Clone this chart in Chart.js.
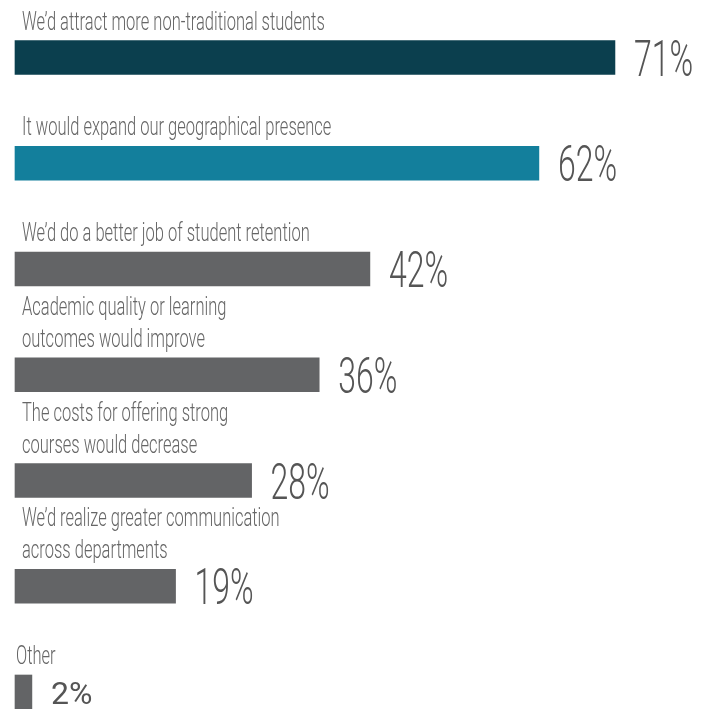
<!DOCTYPE html>
<html>
<head>
<meta charset="utf-8">
<script src="https://cdn.jsdelivr.net/npm/chart.js@4/dist/chart.umd.min.js"></script>
<style>
  html, body { margin: 0; padding: 0; background: #fff; }
  canvas { display: block; }
</style>
</head>
<body>
<canvas id="benefitsChart" width="710" height="709"></canvas>
<script>
// answers, each one split into the lines it is printed on
const categories = [
  ["We\u2019d attract more non-traditional students"],
  ["It would expand our geographical presence"],
  ["We\u2019d do a better job of student retention"],
  ["Academic quality or learning", "outcomes would improve"],
  ["The costs for offering strong", "courses would decrease"],
  ["We\u2019d realize greater communication", "across departments"],
  ["Other"]
];
const percentages = [71, 62, 42, 36, 28, 19, 2];

const barColors = ["#0b3f4e", "#137f9c", "#636466", "#636466", "#636466", "#636466", "#636466"];

// draws the answer text above each bar and the percentage after it
const barTextPlugin = {
  id: "barText",
  afterDatasetsDraw(chart) {
    const ctx = chart.ctx;
    const meta = chart.getDatasetMeta(0);
    const last = percentages.length - 1;
    meta.data.forEach((bar, i) => {
      const p = bar.getProps(["x", "y", "height"], true);
      const top = p.y - p.height / 2;
      const bottom = p.y + p.height / 2;
      // the "Other" row sits flush with the bars
      const left = chart.chartArea.left + (i === last ? 1 : 7);

      ctx.save();
      ctx.fillStyle = "#666666";
      ctx.font = "300 25px Roboto";
      ctx.textBaseline = "alphabetic";
      const lines = categories[i];
      lines.forEach((line, j) => {
        const baseline = top - 11 - (lines.length - 1 - j) * 32;
        ctx.save();
        ctx.translate(left, baseline);
        ctx.scale(0.66, 1);
        ctx.fillText(line, 0, 0);
        ctx.restore();
      });

      const label = percentages[i] + "%";
      ctx.fillStyle = "#555555";
      if (i === last) {
        ctx.font = "400 32px Roboto";
        ctx.fillText(label, p.x + 19, p.y + 12);
      } else {
        ctx.font = "300 50px Roboto";
        ctx.translate(p.x + 19, bottom + 1);
        ctx.scale(0.64, 1);
        ctx.fillText(label, 0, 0);
      }
      ctx.restore();
    });
  }
};

new Chart(document.getElementById("benefitsChart"), {
  type: "bar",
  data: {
    labels: categories.map(c => c.join(" ")),
    datasets: [{
      data: percentages,
      backgroundColor: barColors,
      borderWidth: 0,
      barThickness: 34,
      clip: false
    }]
  },
  options: {
    indexAxis: "y",
    responsive: false,
    devicePixelRatio: 1,
    animation: false,
    layout: { padding: { top: 57.5, bottom: 17, left: 15, right: 19 } },
    scales: {
      x: { display: false, min: 0, max: 80 },
      y: { display: false, offset: false }
    },
    plugins: {
      legend: { display: false },
      tooltip: { enabled: false }
    }
  },
  plugins: [barTextPlugin]
});
</script>
</body>
</html>
